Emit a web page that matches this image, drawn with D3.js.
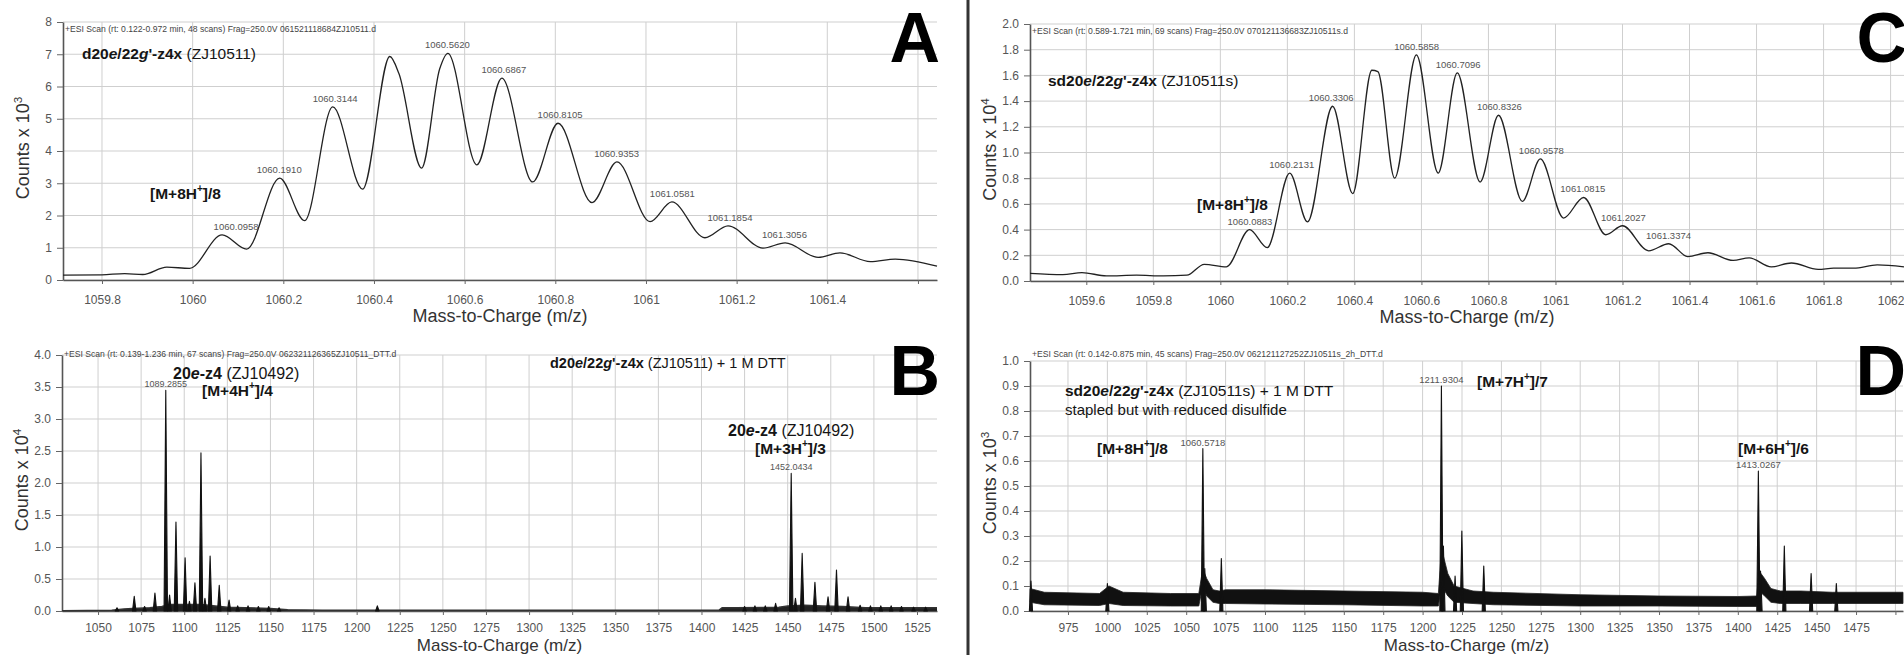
<!DOCTYPE html>
<html><head><meta charset="utf-8">
<script src="https://cdn.jsdelivr.net/npm/d3@7"></script>
<style>
body{margin:0;background:#fff;}
svg{display:block;font-family:"Liberation Sans",Arial,sans-serif;}
</style></head><body>
<svg id="chart" width="1904" height="655"></svg>
<script>
// ---------------- DATA ----------------
// Panel A : d20e/22g'-z4x (ZJ10511) isotope envelope, counts x 10^3
const massA   = [1059.714,1059.80,1059.85,1059.89,1059.943,1059.993,1060.065,1060.119,1060.192,1060.247,1060.309,1060.375,1060.435,1060.455,1060.505,1060.545,1060.563,1060.627,1060.682,1060.75,1060.806,1060.881,1060.936,1061.009,1061.057,1061.13,1061.181,1061.258,1061.307,1061.38,1061.428,1061.495,1061.55,1061.642];
const countsA = [0.15,0.16,0.20,0.17,0.40,0.36,1.40,0.96,3.16,1.84,5.37,2.82,6.93,6.40,3.47,6.55,7.03,3.57,6.26,3.04,4.86,2.40,3.66,1.81,2.42,1.31,1.68,0.99,1.15,0.70,0.84,0.57,0.65,0.43];
const peakLabelsA = ["1060.0958","1060.1910","1060.3144","1060.5620","1060.6867","1060.8105","1060.9353","1061.0581","1061.1854","1061.3056"];
const xTicksA  = [1059.8,1060,1060.2,1060.4,1060.6,1060.8,1061,1061.2,1061.4,1061.6];
const xLabelsA = ["1059.8","1060","1060.2","1060.4","1060.6","1060.8","1061","1061.2","1061.4",""];
const yTicksA  = [0,1,2,3,4,5,6,7,8];
const yLabelsA = ["0","1","2","3","4","5","6","7","8"];

// Panel C : sd20e/22g'-z4x (ZJ10511s) isotope envelope, counts x 10^4
const massC   = [1059.432,1059.53,1059.587,1059.66,1059.75,1059.83,1059.90,1059.952,1060.018,1060.087,1060.14,1060.207,1060.26,1060.335,1060.395,1060.452,1060.47,1060.52,1060.585,1060.65,1060.707,1060.775,1060.830,1060.901,1060.955,1061.024,1061.084,1061.15,1061.20,1061.278,1061.338,1061.395,1061.455,1061.53,1061.578,1061.644,1061.704,1061.784,1061.83,1061.89,1061.96,1062.04];
const countsC = [0.06,0.05,0.065,0.04,0.045,0.04,0.045,0.13,0.11,0.40,0.26,0.84,0.46,1.36,0.68,1.64,1.63,0.80,1.76,0.84,1.62,0.77,1.29,0.62,0.95,0.49,0.65,0.36,0.43,0.235,0.29,0.19,0.22,0.16,0.18,0.11,0.14,0.09,0.10,0.10,0.125,0.11];
const peakLabelsC = ["1060.0883","1060.2131","1060.3306","1060.5858","1060.7096","1060.8326","1060.9578","1061.0815","1061.2027","1061.3374"];
const xTicksC  = [1059.6,1059.8,1060,1060.2,1060.4,1060.6,1060.8,1061,1061.2,1061.4,1061.6,1061.8,1062];
const xLabelsC = ["1059.6","1059.8","1060","1060.2","1060.4","1060.6","1060.8","1061","1061.2","1061.4","1061.6","1061.8","1062"];
const yTicksC  = [0,0.2,0.4,0.6,0.8,1.0,1.2,1.4,1.6,1.8,2.0];
const yLabelsC = ["0.0","0.2","0.4","0.6","0.8","1.0","1.2","1.4","1.6","1.8","2.0"];

// Panel B : + 1 M DTT, counts x 10^4 (stick spectrum)
const peakMassB   = [1061,1071,1077,1083,1089.29,1091.5,1095.2,1100.5,1103,1106.2,1109.7,1112,1115,1120.3,1126,1131,1137,1143,1149,1155,1212,1425,1431,1437,1443,1452.04,1454.5,1458.4,1465.8,1473.4,1478.3,1485,1492,1498,1504,1510,1516,1523,1530];
const peakHeightB = [0.05,0.23,0.07,0.28,3.45,0.25,1.39,0.83,0.15,0.44,2.47,0.2,0.86,0.40,0.17,0.08,0.08,0.07,0.07,0.05,0.08,0.07,0.08,0.08,0.12,2.15,0.2,0.90,0.45,0.22,0.64,0.22,0.09,0.08,0.08,0.08,0.07,0.06,0.06];
const baseMassB   = [1029.1,1058,1065,1070,1080,1087,1092,1100,1110,1118,1125,1135,1150,1160,1180,1260,1410,1412,1420,1445,1450,1460,1470,1482,1495,1536.6];
const baseCountB  = [0.005,0.01,0.03,0.04,0.05,0.07,0.10,0.10,0.10,0.08,0.06,0.05,0.04,0.02,0.01,0.01,0.01,0.05,0.05,0.06,0.08,0.09,0.08,0.07,0.05,0.05];
const peakLabelsB = ["1089.2855","1452.0434"];
const xTicksB  = [1050,1075,1100,1125,1150,1175,1200,1225,1250,1275,1300,1325,1350,1375,1400,1425,1450,1475,1500,1525];
const xLabelsB = ["1050","1075","1100","1125","1150","1175","1200","1225","1250","1275","1300","1325","1350","1375","1400","1425","1450","1475","1500","1525"];
const yTicksB  = [0,0.5,1.0,1.5,2.0,2.5,3.0,3.5,4.0];
const yLabelsB = ["0.0","0.5","1.0","1.5","2.0","2.5","3.0","3.5","4.0"];

// Panel D : stapled + 1 M DTT, counts x 10^3 (stick spectrum over noise band)
const peakMassD   = [951.5,1000,1060.57,1061.8,1072.3,1211.93,1213.2,1220.6,1224.9,1238.8,1413.03,1414.4,1429.5,1446.5,1462.5];
const peakHeightD = [0.12,0.11,0.65,0.17,0.21,0.90,0.26,0.14,0.32,0.18,0.56,0.16,0.26,0.15,0.11];
const bandMassD   = [950.9,960,995,1001,1010,1040,1058,1060.5,1063,1067,1071,1075,1100,1150,1200,1210,1212,1216,1220,1232,1245,1300,1350,1400,1412,1413.5,1417,1421,1427,1440,1460,1504.8];
const bandLowD    = [0.035,0.025,0.022,0.03,0.022,0.02,0.02,0.10,0.06,0.035,0.03,0.03,0.028,0.025,0.02,0.02,0.10,0.06,0.035,0.03,0.025,0.02,0.02,0.018,0.018,0.08,0.06,0.035,0.03,0.03,0.03,0.03];
const bandHighD   = [0.09,0.075,0.07,0.10,0.075,0.07,0.07,0.17,0.13,0.085,0.08,0.085,0.085,0.08,0.075,0.07,0.25,0.15,0.10,0.08,0.075,0.065,0.06,0.058,0.06,0.16,0.13,0.09,0.08,0.08,0.075,0.075];
const peakLabelsD = ["1060.5718","1211.9304","1413.0267"];
const xTicksD  = [975,1000,1025,1050,1075,1100,1125,1150,1175,1200,1225,1250,1275,1300,1325,1350,1375,1400,1425,1450,1475,1500];
const xLabelsD = ["975","1000","1025","1050","1075","1100","1125","1150","1175","1200","1225","1250","1275","1300","1325","1350","1375","1400","1425","1450","1475",""];
const yTicksD  = [0,0.1,0.2,0.3,0.4,0.5,0.6,0.7,0.8,0.9,1.0];
const yLabelsD = ["0.0","0.1","0.2","0.3","0.4","0.5","0.6","0.7","0.8","0.9","1.0"];

const headers = [
  "+ESI Scan (rt: 0.122-0.972 min, 48 scans) Frag=250.0V 061521118684ZJ10511.d",
  "+ESI Scan (rt: 0.139-1.236 min, 67 scans) Frag=250.0V 062321126365ZJ10511_DTT.d",
  "+ESI Scan (rt: 0.589-1.721 min, 69 scans) Frag=250.0V 070121136683ZJ10511s.d",
  "+ESI Scan (rt: 0.142-0.875 min, 45 scans) Frag=250.0V 062121127252ZJ10511s_2h_DTT.d"
];

// ---------------- DRAWING ----------------
const svg = d3.select("#chart");
svg.append("rect").attr("width",1904).attr("height",655).attr("fill","#fff");

// rich text: segs = [[text, flags]], flags: b bold, i italic, s superscript
function rich(g, x, y, segs, size, anchor){
  const t = g.append("text").attr("x",x).attr("y",y).attr("font-size",size)
    .attr("fill","#151515").attr("text-anchor",anchor||"start");
  let raised = false;
  segs.forEach(([txt,f])=>{
    f = f||"";
    const sp = t.append("tspan").text(txt);
    if(f.includes("b")) sp.attr("font-weight","bold");
    if(f.includes("i")) sp.attr("font-style","italic");
    if(f.includes("s")){ sp.attr("dy",-size*0.4).attr("font-size",size*0.65); raised=true; }
    else if(raised){ sp.attr("dy",size*0.4); raised=false; }
  });
  return t;
}

function panel(o){
  const g = svg.append("g");
  const x = d3.scaleLinear().domain(o.xDomain).range([o.left,o.right]);
  const y = d3.scaleLinear().domain(o.yDomain).range([o.bottom,o.top]);

  g.selectAll("line.vg").data(o.xTicks).join("line").attr("class","vg")
    .attr("x1",d=>x(d)).attr("x2",d=>x(d)).attr("y1",o.top).attr("y2",o.bottom)
    .attr("stroke","#cfcfcf").attr("stroke-width",1);
  g.selectAll("line.hg").data(o.yTicks).join("line").attr("class","hg")
    .attr("x1",o.left).attr("x2",o.right).attr("y1",d=>y(d)).attr("y2",d=>y(d))
    .attr("stroke","#cfcfcf").attr("stroke-width",1);

  const xa = g.append("g").attr("transform",`translate(0,${o.bottom})`)
    .call(d3.axisBottom(x).tickValues(o.xTicks).tickFormat((d,i)=>o.xLabels[i]).tickSize(4).tickSizeOuter(0).tickPadding(o.tickPad));
  const ya = g.append("g").attr("transform",`translate(${o.left},0)`)
    .call(d3.axisLeft(y).tickValues(o.yTicks).tickFormat((d,i)=>o.yLabels[i]).tickSize(6).tickSizeOuter(0).tickPadding(5));
  [xa,ya].forEach(a=>{
    a.select(".domain").attr("stroke","#555").attr("stroke-width",1.6);
    a.selectAll(".tick line").attr("stroke","#666");
    a.selectAll(".tick text").attr("fill","#555").attr("font-size",12)
      .attr("font-family","Liberation Sans, Arial, sans-serif");
  });

  // header
  g.append("text").attr("x",o.left+2).attr("y",o.headerY).attr("font-size",8.6)
    .attr("fill","#444").text(o.header);

  // data
  o.draw(g,x,y);

  // axis titles
  g.append("text").attr("x",(o.left+o.right)/2).attr("y",o.bottom+o.titleDy)
    .attr("text-anchor","middle").attr("font-size",o.titleSize).attr("fill","#333")
    .text("Mass-to-Charge (m/z)");
  const yt = rich(g,0,0,[["Counts x 10",""],[o.exp,"s"]],18,"middle");
  yt.attr("fill","#333").attr("transform",`translate(${o.left-34},${(o.top+o.bottom)/2-3}) rotate(-90)`);

  // panel letter
  g.append("text").attr("x",o.right+1).attr("y",o.letterY).attr("text-anchor","end")
    .attr("font-size",70).attr("font-weight","bold").attr("fill","#000")
    .attr("letter-spacing",-2).text(o.letter);

  o.notes.forEach(n=>rich(g,n[0],n[1],n[2],n[3],n[4]));
}

function lineTrace(mass, counts, labels, sz){
  return function(g,x,y){
    const pts = mass.map((m,i)=>[m,counts[i]]);
    g.append("path").datum(pts)
      .attr("d",d3.line().x(d=>x(d[0])).y(d=>y(d[1])).curve(d3.curveMonotoneX))
      .attr("fill","none").attr("stroke","#222").attr("stroke-width",1.3);
    g.selectAll("text.pl").data(labels).join("text").attr("class","pl")
      .attr("x",d=>x(+d))
      .attr("y",d=>{
        const near = pts.filter(p=>Math.abs(p[0]-(+d))<0.04);
        const h = d3.max(near,p=>p[1]);
        return y(h)-5;
      })
      .attr("text-anchor","middle").attr("font-size",sz).attr("fill","#555").text(d=>d);
  };
}

function stickTrace(pm, ph, hw, baseFn, labels, sz){
  return function(g,x,y){
    baseFn(g,x,y);
    const peaks = pm.map((m,i)=>[m,ph[i]]);
    g.selectAll("path.pk").data(peaks).join("path").attr("class","pk")
      .attr("d",d=>`M${x(d[0]-hw)},${y(0)}L${x(d[0])},${y(d[1])}L${x(d[0]+hw)},${y(0)}Z`)
      .attr("fill","#111").attr("stroke","#111").attr("stroke-width",1.1).attr("stroke-linejoin","round");
    g.selectAll("text.pl").data(labels).join("text").attr("class","pl")
      .attr("x",d=>x(+d))
      .attr("y",d=>{
        const near = peaks.filter(p=>Math.abs(p[0]-(+d))<1.5);
        return y(d3.max(near,p=>p[1]))-3;
      })
      .attr("text-anchor","middle").attr("font-size",sz).attr("fill","#555").text(d=>d);
  };
}

// Panel A
panel({
  left:63,right:937,top:22,bottom:280,
  xDomain:[1059.714,1061.642], yDomain:[0,8],
  xTicks:xTicksA,xLabels:xLabelsA,yTicks:yTicksA,yLabels:yLabelsA,
  header:headers[0], headerY:32, exp:"3", letter:"A", letterY:62, titleDy:42, titleSize:18, tickPad:11,
  draw: lineTrace(massA,countsA,peakLabelsA,9.5),
  notes:[
    [82,58.5,[["d20","b"],["e","bi"],["/22","b"],["g","bi"],["'-z4x ","b"],["(ZJ10511)",""]],15.5],
    [150,198.5,[["[M+8H","b"],["+","bs"],["]/8","b"]],15.5]
  ]
});

// Panel C
panel({
  left:1030,right:1904,top:24,bottom:281,
  xDomain:[1059.432,1062.04], yDomain:[0,2.0],
  xTicks:xTicksC,xLabels:xLabelsC,yTicks:yTicksC,yLabels:yLabelsC,
  header:headers[2], headerY:34, exp:"4", letter:"C", letterY:62, titleDy:42, titleSize:18, tickPad:11,
  draw: lineTrace(massC,countsC,peakLabelsC,9.5),
  notes:[
    [1048,85.5,[["sd20","b"],["e","bi"],["/22","b"],["g","bi"],["'-z4x ","b"],["(ZJ10511s)",""]],15.5],
    [1197,209.5,[["[M+8H","b"],["+","bs"],["]/8","b"]],15.5]
  ]
});

// Panel B
panel({
  left:62,right:937,top:355,bottom:611,
  xDomain:[1029.1,1536.6], yDomain:[0,4.0],
  xTicks:xTicksB,xLabels:xLabelsB,yTicks:yTicksB,yLabels:yLabelsB,
  header:headers[1], headerY:357, exp:"4", letter:"B", letterY:395, titleDy:40, titleSize:17, tickPad:8,
  draw: stickTrace(peakMassB,peakHeightB,1.0,(g,x,y)=>{
    const pts = baseMassB.map((m,i)=>[m,baseCountB[i]]);
    g.append("path").datum(pts)
      .attr("d",d3.area().x(d=>x(d[0])).y0(y(0)).y1(d=>y(d[1])))
      .attr("fill","#222");
    g.append("path").datum(pts)
      .attr("d",d3.line().x(d=>x(d[0])).y(d=>y(d[1])))
      .attr("fill","none").attr("stroke","#333").attr("stroke-width",1.5);
  },peakLabelsB,9),
  notes:[
    [550,368,[["d20","b"],["e","bi"],["/22","b"],["g","bi"],["'-z4x ","b"],["(ZJ10511) + 1 M DTT",""]],14.5],
    [173,379,[["20","b"],["e","bi"],["-z4 ","b"],["(ZJ10492)",""]],16],
    [202,395.5,[["[M+4H","b"],["+","bs"],["]/4","b"]],15.5],
    [728,436,[["20","b"],["e","bi"],["-z4 ","b"],["(ZJ10492)",""]],16],
    [755,453.5,[["[M+3H","b"],["+","bs"],["]/3","b"]],15.5]
  ]
});

// Panel D
panel({
  left:1030,right:1903,top:361,bottom:611,
  xDomain:[950.9,1504.8], yDomain:[0,1.0],
  xTicks:xTicksD,xLabels:xLabelsD,yTicks:yTicksD,yLabels:yLabelsD,
  header:headers[3], headerY:357, exp:"3", letter:"D", letterY:395, titleDy:40, titleSize:17, tickPad:8,
  draw: stickTrace(peakMassD,peakHeightD,1.0,(g,x,y)=>{
    const pts = bandMassD.map((m,i)=>[m,bandLowD[i],bandHighD[i]]);
    g.append("path").datum(pts)
      .attr("d",d3.area().x(d=>x(d[0])).y0(d=>y(d[1])).y1(d=>y(d[2])))
      .attr("fill","#111").attr("stroke","#222").attr("stroke-width",0.8);
  },peakLabelsD,9.5),
  notes:[
    [1065,396,[["sd20","b"],["e","bi"],["/22","b"],["g","bi"],["'-z4x ","b"],["(ZJ10511s) + 1 M DTT",""]],15.5],
    [1065,414.5,[["stapled but with reduced disulfide",""]],15],
    [1097,453.5,[["[M+8H","b"],["+","bs"],["]/8","b"]],15.5],
    [1477,386.5,[["[M+7H","b"],["+","bs"],["]/7","b"]],15.5],
    [1738,453.5,[["[M+6H","b"],["+","bs"],["]/6","b"]],15.5]
  ]
});

// divider
svg.append("line").attr("x1",968).attr("x2",968).attr("y1",0).attr("y2",655)
  .attr("stroke","#333").attr("stroke-width",3);
</script>
</body></html>
